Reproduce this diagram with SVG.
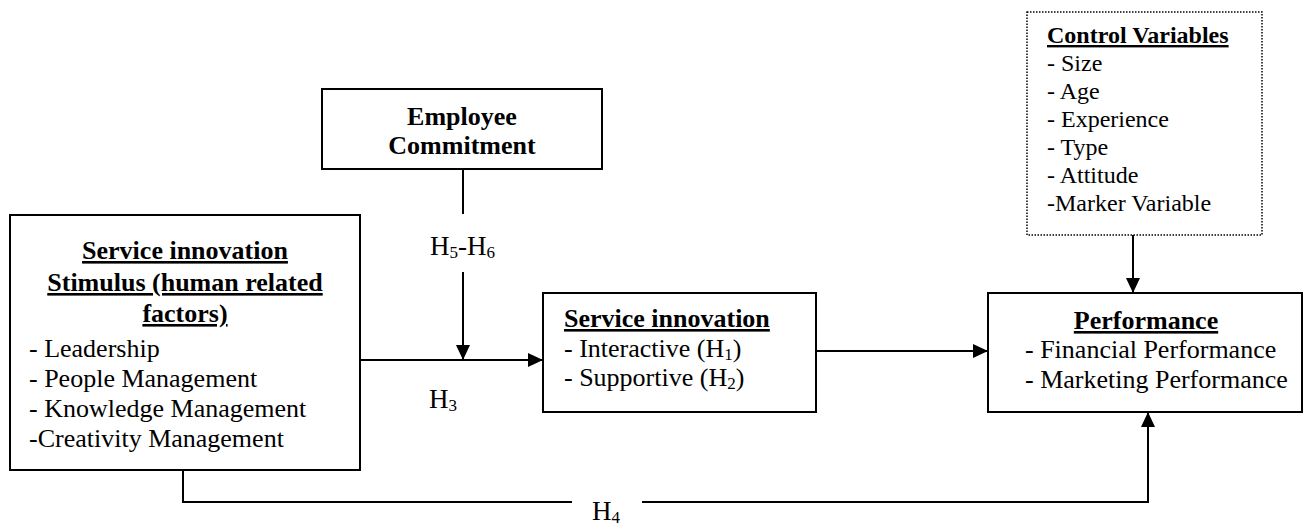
<svg xmlns="http://www.w3.org/2000/svg" width="1305" height="529" viewBox="0 0 1305 529">
<style>
  .box { fill: #fff; stroke: #000; stroke-width: 2; }
  .dot { fill: #fff; stroke: #000; stroke-width: 1.5; stroke-dasharray: 1.5 1.5; }
  .t { font-family: "Liberation Serif", "Times New Roman", serif; font-size: 26px; fill: #000; }
  .b { font-weight: bold; text-decoration: underline; }
  .bn { font-weight: bold; }
  .s { font-size: 24px; }
  .c { text-anchor: middle; }
  .sub { font-size: 17px; }
  .h { font-size: 27px; }
  .conn { fill: none; stroke: #000; stroke-width: 2; }
</style>
<defs>
  <marker id="ah" markerUnits="userSpaceOnUse" markerWidth="15" markerHeight="14" refX="15" refY="7" orient="auto">
    <path d="M0,0 L15,7 L0,14 z" fill="#000"/>
  </marker>
</defs>
<rect width="1305" height="529" fill="#fff"/>

<g id="stimulus">
  <rect class="box" x="10" y="215" width="350" height="255"/>
  <text class="t b c" x="185" y="259">Service innovation</text>
  <text class="t b c" x="185" y="291">Stimulus (human related</text>
  <text class="t b c" x="185" y="322">factors)</text>
  <text class="t" x="29" y="357">- Leadership</text>
  <text class="t" x="29" y="387">- People Management</text>
  <text class="t" x="29" y="417">- Knowledge Management</text>
  <text class="t" x="29" y="447">-Creativity Management</text>
</g>

<g id="commitment">
  <rect class="box" x="322" y="89" width="280" height="80"/>
  <text class="t bn c" x="462" y="125">Employee</text>
  <text class="t bn c" x="462" y="154">Commitment</text>
</g>

<g id="service-innovation">
  <rect class="box" x="543" y="293" width="273" height="119"/>
  <text class="t b" x="564" y="327">Service innovation</text>
  <text class="t" x="564" y="357">- Interactive (H<tspan class="sub" dy="3">1</tspan><tspan dy="-3">)</tspan></text>
  <text class="t" x="564" y="386">- Supportive (H<tspan class="sub" dy="3">2</tspan><tspan dy="-3">)</tspan></text>
</g>

<g id="performance">
  <rect class="box" x="988" y="293" width="314" height="119"/>
  <text class="t b c" x="1146" y="329">Performance</text>
  <text class="t" x="1025" y="358">- Financial Performance</text>
  <text class="t" x="1025" y="388">- Marketing Performance</text>
</g>

<g id="control-variables">
  <rect class="dot" x="1027" y="12" width="235" height="223"/>
  <text class="t s b" x="1047" y="43">Control Variables</text>
  <text class="t s" x="1047" y="71">- Size</text>
  <text class="t s" x="1047" y="99">- Age</text>
  <text class="t s" x="1047" y="127">- Experience</text>
  <text class="t s" x="1047" y="155">- Type</text>
  <text class="t s" x="1047" y="183">- Attitude</text>
  <text class="t s" x="1047" y="211">-Marker Variable</text>
</g>

<g id="connectors">
  <line class="conn" x1="463" y1="169" x2="463" y2="214"/>
  <line class="conn" x1="463" y1="272" x2="463" y2="360" marker-end="url(#ah)"/>
  <line class="conn" x1="360" y1="360" x2="543" y2="360" marker-end="url(#ah)"/>
  <line class="conn" x1="816" y1="351" x2="988" y2="351" marker-end="url(#ah)"/>
  <line class="conn" x1="1133" y1="235" x2="1133" y2="293" marker-end="url(#ah)"/>
  <path class="conn" d="M183,470 V502 H572"/>
  <path class="conn" d="M642,502 H1148 V412" marker-end="url(#ah)"/>
  <text class="t h" x="430" y="255">H<tspan class="sub" dy="3">5</tspan><tspan dy="-3">-H</tspan><tspan class="sub" dy="3">6</tspan></text>
  <text class="t h" x="429" y="408">H<tspan class="sub" dy="3">3</tspan></text>
  <text class="t h" x="592" y="520">H<tspan class="sub" dy="3">4</tspan></text>
</g>
</svg>
